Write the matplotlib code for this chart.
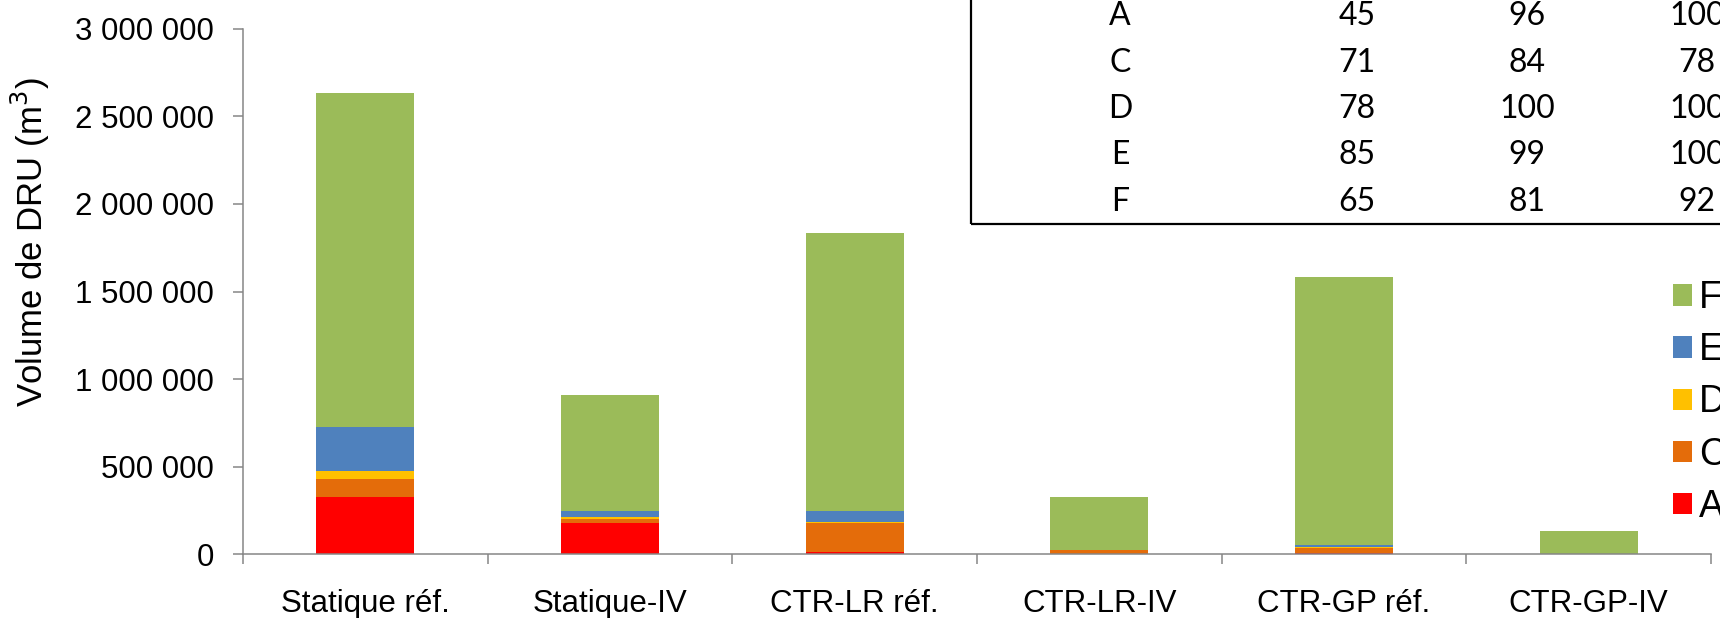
import matplotlib
matplotlib.use("Agg")
import matplotlib.pyplot as plt
import numpy as np
from matplotlib.patches import Rectangle
from matplotlib.ticker import FuncFormatter, FixedLocator

plt.rcParams['font.family'] = ['Liberation Sans', 'DejaVu Sans']

categories = ["Statique réf.", "Statique-IV", "CTR-LR réf.", "CTR-LR-IV", "CTR-GP réf.", "CTR-GP-IV"]
series_names = ["A", "C", "D", "E", "F"]
A = [329000, 177000, 15000, 0, 10000, 0]
C = [103000, 26000, 165000, 25000, 28000, 0]
D = [43000, 10000, 6000, 0, 2000, 0]
E = [253000, 36000, 63000, 0, 11000, 0]
F = [1905000, 660000, 1585000, 300000, 1532000, 133000]
colors = {"A": "#FF0000", "C": "#E46C0A", "D": "#FFC000", "E": "#4F81BD", "F": "#9BBB59"}

table_rows = ["A", "C", "D", "E", "F"]
table_col1 = [45, 71, 78, 85, 65]
table_col2 = [96, 84, 100, 99, 81]
table_col3 = [100, 78, 100, 100, 92]

W, H = 1720, 618
fig = plt.figure(figsize=(W / 100, H / 100), dpi=100)

ax_l, ax_r, ax_t, ax_b = 243, 1711, 28.7, 554.3
ax = fig.add_axes([ax_l / W, 1 - ax_b / H, (ax_r - ax_l) / W, (ax_b - ax_t) / H])

x = np.arange(len(categories))
bottom = np.zeros(len(categories))
handles = {}
for name, vals in zip(series_names, [A, C, D, E, F]):
    vals = np.array(vals, dtype=float)
    handles[name] = ax.bar(x, vals, width=0.4, bottom=bottom, color=colors[name],
                           linewidth=0, label=name)
    bottom += vals

ax.set_xlim(-0.5, len(categories) - 0.5)
ax.set_ylim(0, 3000000)
ax.set_yticks(np.arange(0, 3000001, 500000))
ax.yaxis.set_major_formatter(FuncFormatter(lambda v, p: f"{int(v):,}".replace(",", " ")))
ax.set_xticks(x)
ax.set_xticklabels(categories)
ax.xaxis.set_minor_locator(FixedLocator(np.arange(-0.5, len(categories), 1.0)))

spine_c = "#868686"
for s in ["top", "right"]:
    ax.spines[s].set_visible(False)
for s in ["left", "bottom"]:
    ax.spines[s].set_color(spine_c)
    ax.spines[s].set_linewidth(1.1)

ax.tick_params(axis="y", which="major", direction="out", length=7.2, width=1.1,
               color=spine_c, pad=13.5, labelsize=22.5)
ax.tick_params(axis="x", which="major", length=0, pad=25, labelsize=22.5)
ax.tick_params(axis="x", which="minor", direction="out", length=7.2, width=1.1, color=spine_c)

fig.text(30 / W, 1 - 242 / H, "Volume de DRU (m$^3$)", rotation=90, ha="center", va="center",
         fontsize=25)

# legend (reverse order)
leg_names = series_names[::-1]
fig.legend([handles[n] for n in leg_names], leg_names, loc="center left",
           bbox_to_anchor=(1673 / W, 1 - 402.5 / H), frameon=False, fontsize=27,
           handlelength=0.5, handleheight=0.5, handletextpad=0.2, labelspacing=0.43,
           borderpad=0, borderaxespad=0)

# table box
fig.add_artist(Rectangle((971 / W, 1 - 224 / H), (W + 50 - 971) / W, 260 / H,
                         transform=fig.transFigure, fill=False, edgecolor="black",
                         linewidth=1.6, clip_on=False))
col_x = [1120, 1357, 1527, 1697]
row_y0, row_dy = 16, 46.5
for i, r in enumerate(table_rows):
    y = 1 - (row_y0 + i * row_dy) / H
    for cx, val in zip(col_x, [r, table_col1[i], table_col2[i], table_col3[i]]):
        fig.text(cx / W, y, str(val), ha="center", va="center", fontsize=23,
                 family=["Lato", "DejaVu Sans"])

fig.savefig("out.png", dpi=100)
